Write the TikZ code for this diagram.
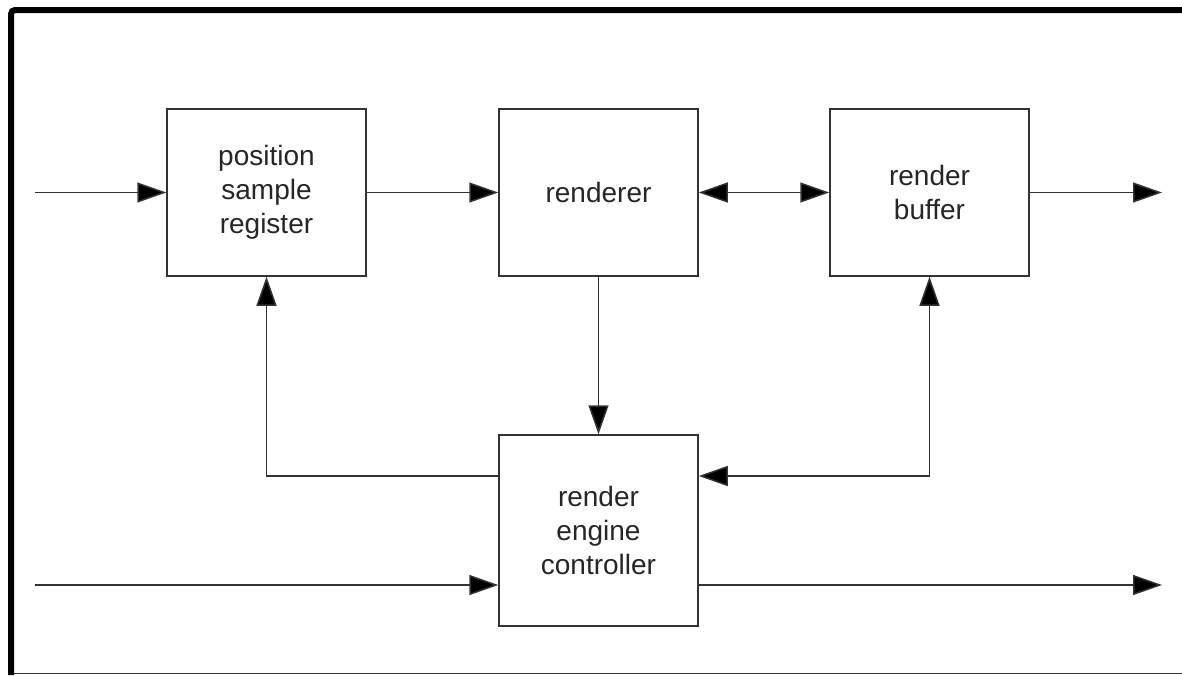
\documentclass[tikz,border=0pt]{standalone}
\usepackage{fontspec}
\setmainfont{Liberation Sans}
\usetikzlibrary{arrows.meta}
\begin{document}
\begin{tikzpicture}[x=1pt,y=-1pt,
  blk/.style={draw=black!80,line width=1.5pt,minimum width=199pt,minimum height=167pt,inner sep=0pt,align=center,font=\fontsize{28}{34}\selectfont,text=black!85},
  conn/.style={draw=black!80,line width=1.5pt,-{Triangle[length=29pt,width=20pt,fill=black]}},
  dconn/.style={draw=black!80,line width=1.5pt,{Triangle[length=29pt,width=20pt,fill=black]}-{Triangle[length=29pt,width=20pt,fill=black]}}]
\useasboundingbox (0,0) rectangle (1182,675);
\fill[white] (0,0) rectangle (1182,675);
% frame
\draw[line width=6pt,rounded corners=4pt] (11,675) -- (11,10) -- (1182,10);
\draw[line width=1.5pt,black!80] (14,673.5) -- (1182,673.5);
% blocks
\node[blk] (psr) at (266.5,192.5) {position\\sample\\register};
\node[blk] (ren) at (598.5,192.5) {renderer};
\node[blk] (buf) at (929.5,192.5) {render\\buffer};
\node[blk,minimum height=191pt] (rec) at (598.5,530.5) {render\\engine\\controller};
% free ends
\coordinate (in1) at (35,192.5);
\coordinate (out1) at (1162,192.5);
\coordinate (in2) at (35,585);
\coordinate (out2) at (1162,585);
\coordinate (cl) at (266.5,476);
\coordinate (cr) at (929.5,476);
% connectors
\draw[conn] (in1) -- (psr.west);
\draw[conn] (psr.east) -- (ren.west);
\draw[dconn] (ren.east) -- (buf.west);
\draw[conn] (buf.east) -- (out1);
\draw[conn] (ren.south) -- (rec.north);
\draw[conn] (rec.west |- cl) -- (cl) -- (psr.south);
\draw[dconn] (rec.east |- cr) -- (cr) -- (buf.south);
\draw[conn] (in2) -- (rec.west |- in2);
\draw[conn] (rec.east |- out2) -- (out2);
\end{tikzpicture}
\end{document}
